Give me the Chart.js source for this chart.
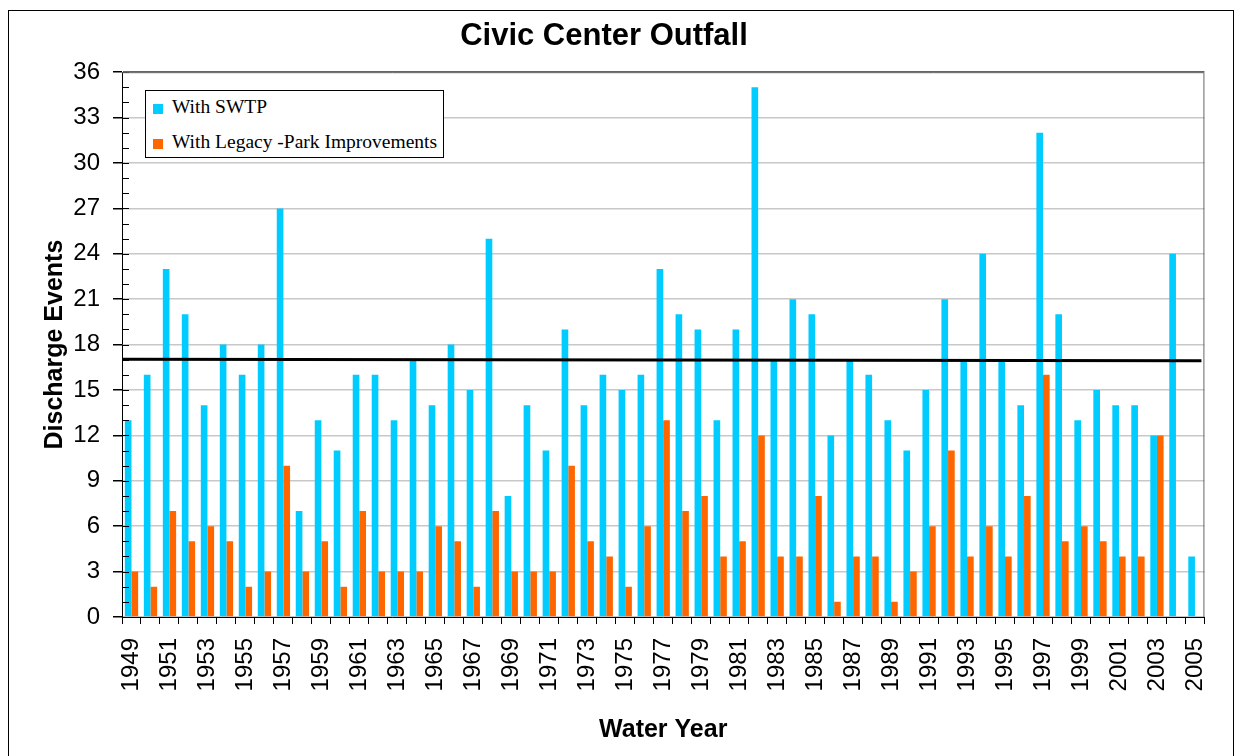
<!DOCTYPE html>
<html>
<head>
<meta charset="utf-8">
<script src="https://cdn.jsdelivr.net/npm/chart.js@4.4.1/dist/chart.umd.min.js"></script>
<style>
  html, body { margin: 0; padding: 0; background: #fff; }
  #wrap { position: relative; width: 1238px; height: 756px; overflow: hidden; }
  #frame { position: absolute; left: 8px; top: 10px; width: 1224px; height: 800px; border: 1px solid #000; }
  #chart { position: absolute; left: 0; top: 0; }
  #legend {
    position: absolute; left: 145px; top: 90px; width: 297px; height: 66px;
    border: 1px solid #000; background: #fff;
    font-family: "Liberation Serif", "DejaVu Serif", serif; font-size: 19.5px; color: #000;
  }
  .item { position: absolute; left: 7px; height: 22px; line-height: 22px; white-space: nowrap; }
  .item i { display: inline-block; width: 10px; height: 10px; margin-right: 9px; vertical-align: -1px; }
</style>
</head>
<body>
<div id="wrap">
  <div id="frame"></div>
  <canvas id="chart" width="1238" height="756"></canvas>
  <div id="legend"></div>
</div>
<script>
const years = ['1949','1950','1951','1952','1953','1954','1955','1956','1957','1958',
  '1959','1960','1961','1962','1963','1964','1965','1966','1967','1968',
  '1969','1970','1971','1972','1973','1974','1975','1976','1977','1978',
  '1979','1980','1981','1982','1983','1984','1985','1986','1987','1988',
  '1989','1990','1991','1992','1993','1994','1995','1996','1997','1998',
  '1999','2000','2001','2002','2003','2004','2005'];

const withSwtp = [13,16,23,20,14,18,16,18,27,7,
  13,11,16,16,13,17,14,18,15,25,
  8,14,11,19,14,16,15,16,23,20,
  19,13,19,35,17,21,20,12,17,16,
  13,11,15,21,17,24,17,14,32,20,
  13,15,14,14,12,24,4];

const withLegacy = [3,2,7,5,6,5,2,3,10,3,
  5,2,7,3,3,3,6,5,2,7,
  3,3,3,10,5,4,2,6,13,7,
  8,4,5,12,4,4,8,1,4,4,
  1,3,6,11,4,6,4,8,16,5,
  6,5,4,4,12,0,0];

// black reference line across the plot: value at left edge, value at right edge
const trendLine = [17.03, 16.94];

const yTicks = [0,3,6,9,12,15,18,21,24,27,30,33,36];

// minor ticks inside the y axis, top/right frame and the reference line
const plotExtras = {
  id: 'plotExtras',
  afterDatasetsDraw(chart) {
    const ctx = chart.ctx;
    const a = chart.chartArea;
    const y = chart.scales.y;
    ctx.save();
    ctx.strokeStyle = '#000';
    ctx.lineWidth = 3;
    ctx.beginPath();
    ctx.moveTo(a.left, y.getPixelForValue(trendLine[0]));
    ctx.lineTo(a.right - 3, y.getPixelForValue(trendLine[1]));
    ctx.stroke();
    ctx.restore();
  },
  afterDraw(chart) {
    const ctx = chart.ctx;
    const a = chart.chartArea;
    const y = chart.scales.y;
    ctx.save();
    ctx.strokeStyle = '#000';
    ctx.lineWidth = 1;
    for (let v = 0; v <= 36; v++) {
      const py = Math.round(y.getPixelForValue(v)) + 0.5;
      ctx.beginPath();
      ctx.moveTo(a.left, py);
      ctx.lineTo(a.left + 7, py);
      ctx.stroke();
    }
    ctx.strokeStyle = '#666';
    ctx.beginPath();
    ctx.moveTo(a.left, a.top + 0.5);
    ctx.lineTo(a.right - 0.5, a.top + 0.5);
    ctx.lineTo(a.right - 0.5, a.bottom);
    ctx.stroke();
    ctx.restore();
  }
};

const ctx = document.getElementById('chart').getContext('2d');
const chart = new Chart(ctx, {
  type: 'bar',
  data: {
    labels: years,
    datasets: [
      {
        label: 'With SWTP',
        data: withSwtp,
        backgroundColor: '#00CCFF',
        categoryPercentage: 0.7,
        barPercentage: 1.0
      },
      {
        label: 'With Legacy-Park Improvements',
        data: withLegacy,
        backgroundColor: '#FF6600',
        categoryPercentage: 0.7,
        barPercentage: 1.0
      }
    ]
  },
  options: {
    responsive: false,
    animation: false,
    layout: { padding: { left: 0, right: 30, top: 0, bottom: 0 } },
    plugins: {
      legend: { display: false },
      tooltip: { enabled: false },
      title: {
        display: true,
        text: 'Civic Center Outfall',
        color: '#000',
        font: { family: 'Liberation Sans, Arial, sans-serif', size: 31, weight: 'bold' },
        padding: { top: 18, bottom: 17 }
      }
    },
    scales: {
      x: {
        grid: { display: true, offset: true, drawOnChartArea: false, tickLength: 7, tickColor: '#000' },
        border: { color: '#000', width: 1 },
        ticks: {
          autoSkip: false,
          minRotation: 90,
          maxRotation: 90,
          padding: 14,
          color: '#000',
          font: { family: 'Liberation Sans, Arial, sans-serif', size: 24 },
          callback: (v, i) => (i % 2 === 0 ? years[i] : '')
        },
        title: {
          display: true,
          text: 'Water Year',
          color: '#000',
          font: { family: 'Liberation Sans, Arial, sans-serif', size: 25, weight: 'bold' },
          padding: { top: 0, bottom: 11 }
        },
        afterFit(scale) { scale.height = 139; }
      },
      y: {
        min: 0,
        max: 36,
        afterBuildTicks(scale) { scale.ticks = yTicks.map(v => ({ value: v })); },
        grid: {
          color: (c) => (c.tick && c.tick.value === 36 ? '#666' : '#c8c8c8'),
          lineWidth: 1.5,
          tickLength: 9,
          tickColor: '#000'
        },
        border: { color: '#000', width: 1 },
        ticks: {
          padding: 13,
          color: '#000',
          font: { family: 'Liberation Sans, Arial, sans-serif', size: 24 }
        },
        title: {
          display: true,
          text: 'Discharge Events',
          color: '#000',
          font: { family: 'Liberation Sans, Arial, sans-serif', size: 25, weight: 'bold' },
          padding: { top: 40, bottom: 0 }
        },
        afterFit(scale) { scale.width = 122; }
      }
    }
  },
  plugins: [plotExtras]
});

// legend box inside the plot, built from the datasets
const legendEl = document.getElementById('legend');
chart.data.datasets.forEach((d, i) => {
  const row = document.createElement('div');
  row.className = 'item';
  row.style.top = (5 + i * 35) + 'px';
  row.innerHTML = '<i style="background:' + d.backgroundColor + '"></i>' + d.label.replace('-', ' -');
  legendEl.appendChild(row);
});
</script>
</body>
</html>
